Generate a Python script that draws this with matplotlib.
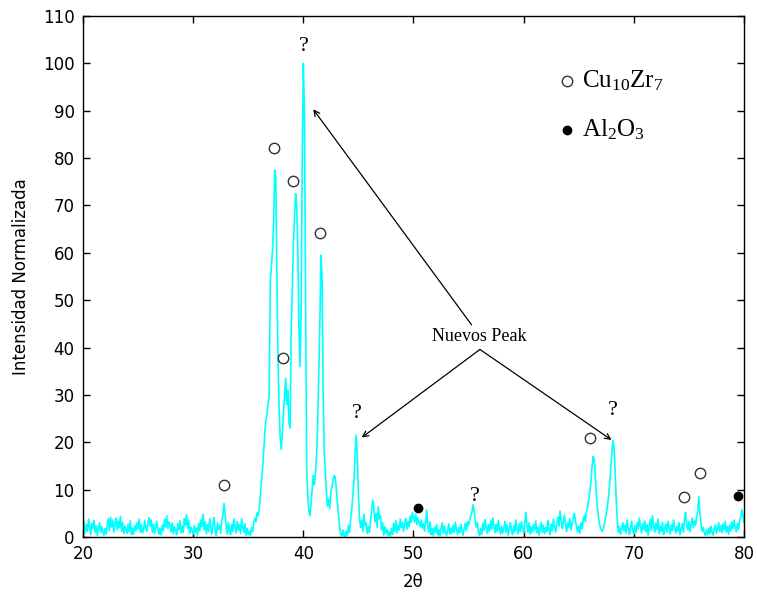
import numpy as np
import matplotlib
matplotlib.use("Agg")
import matplotlib.pyplot as plt

plt.rcParams['mathtext.fontset'] = 'custom'
plt.rcParams['mathtext.rm'] = 'Liberation Serif'
plt.rcParams['mathtext.it'] = 'Liberation Serif:italic'

# ---------------- data ----------------
two_theta_start = 20.0
two_theta_step = 0.1

seg_20_30 = [
    1.5, 3.2, 0.8, 2.6, 1.2, 3.8, 2.0, 0.5, 2.9, 1.7,
    3.5, 1.0, 2.4, 0.3, 1.9, 3.0, 0.9, 2.2, 1.1, 0.4,
    1.8, 0.6, 2.5, 3.9, 1.3, 4.2, 2.1, 3.6, 1.0, 2.8,
    4.0, 1.5, 3.3, 2.0, 4.4, 1.2, 3.1, 0.7, 2.3, 1.6,
    0.8, 2.7, 1.1, 3.4, 0.5, 1.9, 0.6, 2.4, 1.3, 3.0,
    1.7, 3.8, 1.0, 2.6, 0.9, 1.4, 3.5, 2.0, 1.2, 2.9,
    4.1, 2.2, 3.6, 1.0, 2.7, 0.8, 2.0, 3.3, 1.5, 0.6,
    1.9, 0.4, 2.5, 1.3, 3.7, 2.1, 4.5, 1.8, 3.2, 2.4,
    1.1, 3.0, 0.7, 2.2, 1.4, 0.5, 2.8, 1.6, 3.4, 0.9,
    2.3, 1.0, 3.9, 2.5, 4.7, 1.8, 3.5, 0.8, 2.1, 1.2,
]
seg_30_40 = [
    0.6, 2.4, 1.0, 1.9, 0.4, 2.9, 1.3, 3.6, 2.2, 4.8,
    1.5, 3.2, 0.7, 2.6, 1.1, 3.9, 2.0, 0.6, 2.7, 4.1,
    1.0, 0.3, 3.0, 1.6, 2.4, 0.8, 3.5, 4.6, 7.1, 5.0,
    2.2, 0.6, 3.1, 1.4, 0.5, 2.7, 1.2, 3.8, 2.0, 0.9,
    3.3, 1.5, 2.6, 0.7, 3.9, 2.1, 1.0, 2.8, 0.4, 1.8,
    0.5, 1.2, 0.3, 2.0, 1.1, 2.9, 4.0, 3.2, 5.1, 4.5,
    6.0, 8.5, 12.0, 14.5, 18.0, 22.0, 24.5, 26.0, 28.0, 30.0,
    54.0, 57.0, 60.5, 66.0, 77.5, 76.0, 55.0, 38.0, 27.0, 21.0,
    18.5, 22.0, 26.0, 30.0, 33.5, 28.0, 31.0, 24.0, 23.0, 44.0,
    52.0, 62.0, 67.0, 72.5, 70.0, 61.0, 44.0, 36.0, 48.0, 79.0,
]
seg_40_50 = [
    100.0, 90.0, 52.0, 15.0, 9.0, 5.5, 4.5, 7.0, 10.0, 13.0,
    11.0, 13.5, 17.0, 24.0, 34.0, 45.0, 59.5, 55.0, 30.0, 18.0,
    14.0, 9.0, 6.5, 8.0, 6.0, 9.5, 10.5, 12.0, 13.0, 12.5,
    10.0, 7.0, 4.5, 2.0, 0.5, 0.2, 1.5, 0.3, 0.0, 1.2,
    0.4, 2.5, 1.0, 3.8, 6.0, 9.0, 12.0, 18.0, 21.5, 17.0,
    9.0, 4.0, 2.0, 3.5, 1.2, 4.8, 2.5, 3.0, 0.8, 2.2,
    1.0, 3.6, 5.5, 7.8, 6.0, 3.2, 5.0, 2.0, 6.4, 3.8,
    4.5, 1.5, 3.0, 0.4, 2.2, 0.8, 1.6, 0.3, 1.1, 0.2,
    1.8, 0.5, 2.9, 1.2, 3.4, 0.9, 2.4, 1.5, 3.8, 2.0,
    3.0, 1.2, 2.7, 3.9, 1.6, 3.3, 2.2, 4.4, 3.1, 5.2,
]
seg_50_60 = [
    4.0, 3.2, 4.8, 2.6, 4.1, 3.0, 2.2, 3.6, 1.9, 2.8,
    1.2, 3.0, 5.7, 2.4, 1.0, 3.2, 0.5, 1.8, 0.3, 2.1,
    1.0, 2.6, 0.4, 1.5, 0.2, 1.9, 3.0, 0.7, 2.3, 1.1,
    0.3, 1.4, 2.8, 0.6, 1.9, 0.8, 2.5, 1.0, 3.1, 1.6,
    0.5, 2.0, 0.9, 2.7, 1.2, 0.4, 1.7, 2.9, 1.3, 3.2,
    2.4, 3.6, 4.5, 5.2, 6.8, 5.5, 3.8, 2.1, 3.0, 1.0,
    0.3, 1.8, 0.6, 2.9, 1.4, 3.7, 2.0, 0.8, 2.6, 1.2,
    3.4, 1.6, 4.0, 2.2, 0.9, 2.7, 1.1, 3.5, 1.8, 0.6,
    2.3, 0.8, 1.9, 3.3, 1.0, 2.5, 0.4, 1.7, 3.0, 1.3,
    0.5, 2.4, 1.1, 3.6, 1.6, 0.7, 2.8, 1.2, 3.2, 1.9,
]
seg_60_70 = [
    0.8, 2.9, 5.2, 2.0, 1.1, 3.0, 0.6, 2.2, 1.0, 2.6,
    1.5, 3.4, 0.9, 2.1, 0.4, 1.8, 3.1, 1.0, 2.5, 0.7,
    2.0, 1.2, 3.5, 1.6, 0.5, 2.7, 1.3, 3.8, 2.1, 1.0,
    2.6, 4.2, 2.3, 5.5, 3.6, 1.8, 3.2, 4.6, 2.4, 1.2,
    3.0, 2.0, 3.9, 1.5, 2.8, 4.1, 5.0, 3.3, 2.1, 1.0,
    2.4, 0.8, 3.0, 1.7, 3.5, 4.6, 3.2, 5.4, 6.2, 7.8,
    9.5, 11.5, 14.5, 17.0, 16.5, 13.0, 9.0, 6.0, 4.0, 2.5,
    1.8, 1.2, 1.5, 2.4, 3.6, 5.0, 6.5, 8.5, 11.0, 14.0,
    17.5, 20.3, 19.0, 14.0, 8.0, 3.5, 1.0, 2.2, 0.6, 1.8,
    3.0, 1.3, 2.5, 0.8, 3.6, 1.9, 0.5, 2.1, 3.3, 1.4,
]
seg_70_80 = [
    0.6, 2.4, 1.0, 3.0, 1.7, 4.0, 2.2, 0.9, 2.8, 1.5,
    3.4, 1.1, 2.6, 0.4, 2.0, 3.7, 1.3, 4.5, 2.4, 1.0,
    2.9, 1.6, 3.8, 0.7, 2.3, 1.2, 3.1, 0.5, 1.8, 2.7,
    1.0, 3.3, 1.9, 0.6, 2.5, 1.4, 3.6, 2.0, 0.8, 2.2,
    1.2, 3.0, 0.5, 1.7, 2.8, 1.0, 3.9, 5.2, 2.4, 1.5,
    3.2, 1.1, 2.6, 4.0, 2.0, 3.4, 2.5, 4.2, 5.5, 8.5,
    5.0, 2.6, 1.2, 2.0, 0.8, 0.3, 1.5, 0.5, 1.9, 0.7,
    2.3, 1.0, 0.4, 1.6, 2.6, 0.8, 1.8, 3.0, 1.2, 2.4,
    0.9, 2.8, 1.5, 3.3, 1.0, 2.2, 0.6, 2.5, 1.3, 3.1,
    1.8, 3.6, 2.0, 1.1, 2.9, 1.6, 3.4, 4.2, 5.8, 4.6,
    3.0,
]

# phase markers
cu_x = [32.8, 37.35, 38.15, 39.1, 41.5, 66.0, 74.55, 76.0]
cu_y = [11.0, 82.2, 37.7, 75.1, 64.1, 20.9, 8.4, 13.5]
al_x = [50.4, 79.45]
al_y = [6.1, 8.7]
# unidentified peaks
q_x = [40.05, 44.85, 55.55, 68.1]
q_y = [103.5, 26.0, 8.6, 26.8]

x_ticks = [20, 30, 40, 50, 60, 70, 80]
y_ticks = [0, 10, 20, 30, 40, 50, 60, 70, 80, 90, 100, 110]

intensity = np.array(seg_20_30 + seg_30_40 + seg_40_50 + seg_50_60 + seg_60_70 + seg_70_80)
two_theta = two_theta_start + two_theta_step * np.arange(len(intensity))

# ---------------- figure ----------------
fig = plt.figure(figsize=(7.57, 5.94), dpi=100)
ax = fig.add_axes([83 / 757, 1 - 537 / 594, 661 / 757, 521 / 594])

ax.plot(two_theta, intensity, color='#00FFFF', lw=1.2)

ax.plot(cu_x, cu_y, 'o', ms=7.5, mfc='white', mec='#333333', mew=1.0, ls='none')
ax.plot(al_x, al_y, 'o', ms=6, mfc='black', mec='black', ls='none')
for qx, qy in zip(q_x, q_y):
    ax.text(qx, qy, '?', family='Liberation Serif', fontsize=16, ha='center', va='center', color='black')

# legend-like text
ax.plot([63.9], [96.3], 'o', ms=7.5, mfc='white', mec='#333333', mew=1.0)
ax.text(65.3, 96.3, r'$\mathrm{Cu_{10}Zr_7}$', fontsize=18, va='center', ha='left')
ax.plot([63.9], [85.9], 'o', ms=6, mfc='black', mec='black')
ax.text(65.3, 85.9, r'$\mathrm{Al_2O_3}$', fontsize=18, va='center', ha='left')

# annotation
ax.text(56.0, 42.3, 'Nuevos Peak', family='Liberation Serif', fontsize=13, ha='center', va='center')
arrow_kw = dict(arrowstyle='->', color='black', lw=0.9, shrinkA=0, shrinkB=0, mutation_scale=10)
ax.annotate('', xy=(40.9, 90.3), xytext=(55.27, 44.8), arrowprops=arrow_kw)
ax.annotate('', xy=(45.3, 21.0), xytext=(56.03, 39.6), arrowprops=arrow_kw)
ax.annotate('', xy=(67.97, 20.5), xytext=(56.03, 39.6), arrowprops=arrow_kw)

ax.set_xlim(20, 80)
ax.set_ylim(0, 110)
ax.set_xticks(x_ticks)
ax.set_yticks(y_ticks)
ax.tick_params(direction='in', top=True, right=True, length=5, width=1,
               labelsize=12, pad=6, colors='black')
for sp in ax.spines.values():
    sp.set_linewidth(1.0)

ax.set_xlabel('2θ', fontsize=12, labelpad=7)
ax.set_ylabel('Intensidad Normalizada', fontsize=12, labelpad=9)

fig.savefig('out.png', dpi=100)
